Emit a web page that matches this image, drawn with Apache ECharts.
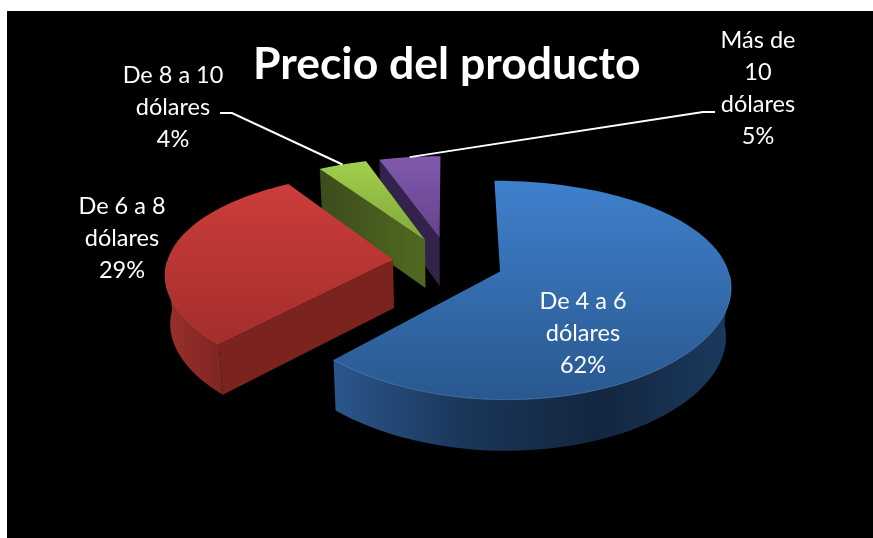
<!DOCTYPE html>
<html>
<head>
<meta charset="utf-8">
<style>
  html, body { margin: 0; padding: 0; background: #fff; }
  #chart { width: 873px; height: 538px; }
</style>
<script src="https://cdn.jsdelivr.net/npm/echarts@6/dist/echarts.min.js"></script>
</head>
<body>
<div id="chart"></div>
<script>
// Price breakdown, in percent
const categories = ['De 4 a 6 dólares', 'De 6 a 8 dólares', 'De 8 a 10 dólares', 'Más de 10 dólares'];
const shares = [62, 29, 4, 5];
const titleText = 'Precio del producto';
const labelLines = [
  ['De 4 a 6', 'dólares'],
  ['De 6 a 8', 'dólares'],
  ['De 8 a 10', 'dólares'],
  ['Más de', '10', 'dólares']
];

// Exploded 3D pie: perspective parameters
const CX = 448, CY = 262, RX = 226, RY = 103, PERSP_X = 0.12, PERSP_Y = 0.169;
const DEPTH = 48.5, BOTTOM_SCALE = 0.982, EXPLODE = 0.245, FIRST_ANGLE = 0;

const palette = [
  { top: ['#3f80cc', '#29588f'], rim: ['#2b568c', '#1a3659', '#13263f', '#1b3a5e'], face: '#1d3b60', edge: '#5f93d0' },
  { top: ['#cc3d3a', '#a32e2b'], rim: ['#9a302c', '#7f2522'], face: '#7b231f', edge: '#c8504c' },
  { top: ['#a2cf4d', '#80a83a'], rim: ['#445820', '#445820'], face: ['#3d4c1c', '#4f6a20'], edge: '#a2cf4d' },
  { top: ['#8059ad', '#66428c'], rim: ['#33234a', '#33234a'], face: '#33234a', edge: '#8059ad' }
];
// Back slices are painted first so nearer ones cover them
const paintOrder = [4, 3, 2, 1];

const labelLayout = [
  { x: 583, y: 301 },
  { x: 122, y: 206 },
  { x: 173, y: 75 },
  { x: 758, y: 40 }
];
const LINE_H = 32.3;
const leaderElbows = [null, null, [[232, 113], [220, 113]], [[703, 112], [715, 112]]];

const total = shares.reduce((a, b) => a + b, 0);
const rad = d => d * Math.PI / 180;

function sliceSpan(i) {
  let before = 0;
  for (let k = 0; k < i; k++) before += shares[k];
  const a0 = FIRST_ANGLE + before / total * 360;
  return [a0, a0 + shares[i] / total * 360];
}

// Disc coordinates (clockwise from the back of the pie) to screen, at the
// top surface or on the underside.
function project(u, v, lower) {
  const sx = lower ? BOTTOM_SCALE : 1;
  return [
    CX + sx * RX * u / (1 + PERSP_X * v),
    CY - RY * v / (1 + PERSP_Y * v) + (lower ? DEPTH * (1 - 0.05 * v) : 0)
  ];
}

function slicePoints(i, lower) {
  const [a0, a1] = sliceSpan(i);
  const mid = rad((a0 + a1) / 2);
  const ox = EXPLODE * Math.sin(mid), oy = EXPLODE * Math.cos(mid);
  const apex = project(ox, oy, lower);
  const rim = [];
  for (let a = a0; a <= a1 + 1e-6; a += (a1 - a0) / 80) {
    rim.push(project(ox + Math.sin(rad(a)), oy + Math.cos(rad(a)), lower));
  }
  return { apex, rim, mid: project(ox + Math.sin(mid), oy + Math.cos(mid), lower) };
}

function fill(c, vertical) {
  if (typeof c === 'string') return c;
  const stops = c.map((color, k) => ({ offset: k / (c.length - 1), color }));
  return new echarts.graphic.LinearGradient(0, 0, vertical ? 0 : 1, vertical ? 1 : 0, stops);
}

function renderSlice(params, api) {
  const i = api.value(1);
  const z = paintOrder[i];
  const colors = palette[i];
  const up = slicePoints(i, false);
  const down = slicePoints(i, true);
  const children = [];

  // The cut side on the clockwise end faces the viewer for the left slices
  if (i > 0) {
    children.push({
      type: 'polygon', z2: z * 10,
      shape: { points: [up.apex, up.rim[0], down.rim[0], down.apex] },
      style: { fill: fill(colors.face, false) }
    });
  }
  // Outer rim wall, only the part facing the viewer
  const wall = [];
  const wallDown = [];
  const [a0, a1] = sliceSpan(i);
  up.rim.forEach((p, k) => {
    const a = rad(a0 + (a1 - a0) * k / 80);
    if (Math.cos(a) < 0) { wall.push(p); wallDown.push(down.rim[k]); }
  });
  if (wall.length > 1) {
    children.push({
      type: 'polygon', z2: z * 10 + 1,
      shape: { points: wall.concat(wallDown.reverse()) },
      style: { fill: fill(colors.rim, false) }
    });
    children.push({
      type: 'polyline', z2: z * 10 + 3,
      shape: { points: wall },
      style: { fill: null, stroke: colors.edge, lineWidth: 1, opacity: 0.55 }
    });
  }
  // Top surface
  children.push({
    type: 'polygon', z2: z * 10 + 2,
    shape: { points: [up.apex].concat(up.rim) },
    style: { fill: fill(colors.top, true) }
  });

  // Leader line for labels placed away from their slice
  const elbow = leaderElbows[i];
  if (elbow) {
    children.push({
      type: 'polyline', z2: 60,
      shape: { points: [up.mid].concat(elbow) },
      style: { fill: null, stroke: '#fff', lineWidth: 2 }
    });
  }

  // Label: category lines, then the share
  const lines = labelLines[i].concat([api.value(0) + '%']);
  lines.forEach((line, k) => {
    children.push({
      type: 'text', z2: 70,
      style: {
        x: labelLayout[i].x, y: labelLayout[i].y + k * LINE_H,
        text: line, fill: '#fff',
        font: '23.5px Lato', align: 'center', verticalAlign: 'middle'
      }
    });
  });
  return { type: 'group', children };
}

const chart = echarts.init(document.getElementById('chart'), null, { renderer: 'canvas' });
chart.setOption({
  animation: false,
  backgroundColor: '#fff',
  title: {
    text: titleText, left: 248, top: 37,
    textStyle: { color: '#fff', fontFamily: 'Lato', fontWeight: 'bold', fontSize: 44.5 }
  },
  graphic: [{
    type: 'rect', z: -1, silent: true,
    shape: { x: 7, y: 11, width: 866, height: 527 },
    style: { fill: '#000' }
  }],
  series: [{
    type: 'custom',
    coordinateSystem: 'none',
    data: shares.map((v, i) => ({ name: categories[i], value: [v, i] })),
    renderItem: renderSlice
  }]
});
</script>
</body>
</html>
